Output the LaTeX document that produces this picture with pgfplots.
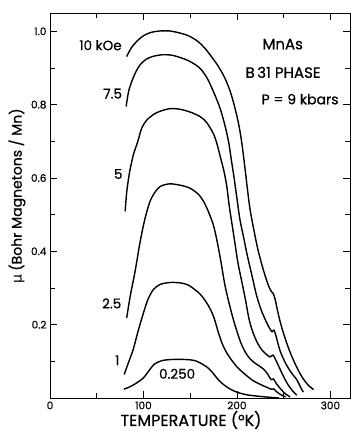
\documentclass[border=0pt]{standalone}
\usepackage{fontspec}
\setmainfont{Poppins}[FakeBold=0.6]
\newfontfamily\dejavu{DejaVu Sans}
\usepackage{pgfplots}
\pgfplotsset{compat=1.18}
\pgfplotsset{crv/.style={black, line width=1.4pt, smooth, tension=0.5, mark=none, solid}}
\begin{document}
\begin{tikzpicture}
\begin{axis}[
  scale only axis, width=300pt, height=385pt,
  xmin=0, xmax=321, ymin=0, ymax=1.05,
  xtick={0,100,200,300}, xticklabels={0,100,200,300},
  minor xtick={50,150,250},
  ytick={0.2,0.4,0.6,0.8,1.0}, yticklabels={0.2,0.4,0.6,0.8,1.0},
  minor ytick={0.1,0.3,0.5,0.7,0.9},
  tick align=inside, major tick length=7pt, minor tick length=5pt,
  /pgf/number format/assume math mode=true,
  ticklabel style={font=\fontsize{10.5}{12}\selectfont},
  xlabel={TEMPERATURE (°K)}, ylabel={{\dejavu μ} (Bohr Magnetons / Mn)},
  xlabel style={font=\fontsize{16}{18}\selectfont, at={(axis description cs:0.47,0)}, anchor=center, inner sep=0pt, yshift=-22pt},
  ylabel style={font=\fontsize{14}{16}\selectfont, at={(axis description cs:-0.11,0.525)}, anchor=center},
  axis line style={line width=0.6pt},
  every tick/.style={line width=0.6pt, black},
]
% 10 kOe
\addplot[crv] coordinates {(82,0.931) (87,0.955) (93,0.973) (100,0.988) (108,0.997) (118,1.001) (128,1.001) (138,0.996) (148,0.988) (158,0.973) (166,0.953) (173,0.93) (180,0.905) (187,0.873) (193,0.835) (198,0.79) (202,0.745) (205,0.70) (208,0.64) (211,0.575) (214,0.515) (218,0.46) (222,0.41) (226,0.37) (230,0.335) (234,0.305) (237,0.29) (239,0.284) (241,0.268) (244,0.232) (248,0.192) (253,0.152) (258,0.118) (264,0.084) (270,0.056) (276,0.036) (282,0.023)};
% 7.5 kOe
\addplot[crv] coordinates {(81.5,0.795) (84,0.835) (87.6,0.864) (92,0.89) (96.5,0.909) (103,0.924) (110.7,0.932) (120,0.936) (130,0.935) (140,0.928) (148,0.92) (155,0.91) (161,0.898) (168,0.873) (175,0.835) (182,0.79) (187,0.745) (191,0.70) (194,0.65) (197,0.60) (200,0.545) (203,0.49) (207,0.44) (211,0.39) (216,0.335) (221,0.28) (226,0.24) (231,0.21) (235,0.19) (237.5,0.181) (239.5,0.185) (241.5,0.172) (246,0.13) (252,0.095) (258,0.07) (264,0.05) (268,0.03) (271,0.016)};
% 5 kOe
\addplot[crv] coordinates {(80.4,0.509) (82.2,0.564) (85.3,0.618) (89.3,0.664) (94,0.70) (98,0.735) (104,0.759) (114,0.778) (128,0.789) (140,0.787) (153,0.777) (162,0.765) (168,0.75) (175,0.72) (179,0.69) (182,0.66) (186,0.62) (189,0.58) (192,0.52) (195,0.47) (198,0.42) (201,0.37) (205,0.32) (209,0.27) (213,0.215) (217,0.18) (222,0.15) (227,0.13) (232,0.118) (235.5,0.112) (238.5,0.117) (241,0.107) (245,0.085) (250,0.058) (255,0.035) (260,0.018) (264,0.008)};
% 2.5 kOe
\addplot[crv] coordinates {(82,0.218) (86,0.28) (91,0.345) (96.5,0.427) (101.8,0.491) (107,0.536) (112,0.56) (118,0.577) (128,0.584) (140,0.58) (150,0.572) (159,0.555) (165,0.533) (170,0.505) (175,0.47) (179,0.425) (183,0.37) (187,0.31) (191,0.265) (195,0.225) (199,0.19) (204,0.152) (209,0.125) (214,0.107) (221,0.092) (228,0.08) (233,0.065) (236.5,0.05) (239,0.052) (242,0.04) (247,0.024) (252,0.011) (257,0.003)};
% 1 kOe
\addplot[crv] coordinates {(79.4,0.064) (84,0.097) (89,0.132) (94,0.18) (100,0.232) (105,0.27) (110.7,0.296) (118,0.31) (128.6,0.315) (139,0.314) (148,0.308) (160,0.285) (167,0.262) (172,0.24) (176,0.215) (180,0.18) (184,0.15) (188,0.128) (193,0.108) (200,0.085) (208,0.066) (217,0.048) (226,0.036) (233,0.028) (237,0.024) (239.5,0.025) (242,0.018) (247,0.009) (252,0.003)};
% 0.250 kOe
\addplot[crv] coordinates {(79,0.024) (85,0.03) (92,0.04) (100,0.055) (106,0.075) (112,0.093) (120,0.102) (130,0.105) (145,0.105) (155,0.102) (164,0.091) (170,0.08) (175,0.066) (180,0.05) (186,0.036) (193,0.024) (200,0.016) (210,0.009) (222,0.005) (235,0.002) (245,0.0)};
\node[font=\fontsize{13.5}{15}\selectfont] at (axis cs:54,0.962) {10 kOe};
\node[font=\fontsize{13.5}{15}\selectfont] at (axis cs:67,0.83) {7.5};
\node[font=\fontsize{13.5}{15}\selectfont] at (axis cs:73,0.611) {5};
\node[font=\fontsize{13.5}{15}\selectfont] at (axis cs:66,0.258) {2.5};
\node[font=\fontsize{13.5}{15}\selectfont] at (axis cs:72,0.103) {1};
\node[font=\fontsize{13.5}{15}\selectfont] at (axis cs:136,0.066) {0.250};
\node[font=\fontsize{15}{17}\selectfont] at (axis cs:249,0.965) {MnAs};
\node[font=\fontsize{15}{17}\selectfont] at (axis cs:249.4,0.888) {B\,31 PHASE};
\node[font=\fontsize{14}{16}\selectfont] at (axis cs:267.6,0.815) {P = 9 kbars};
\end{axis}
\pgfresetboundingbox
\path (current axis.south west) ++(-50pt,-33pt) rectangle ++(351pt,431pt);
\end{tikzpicture}
\end{document}
